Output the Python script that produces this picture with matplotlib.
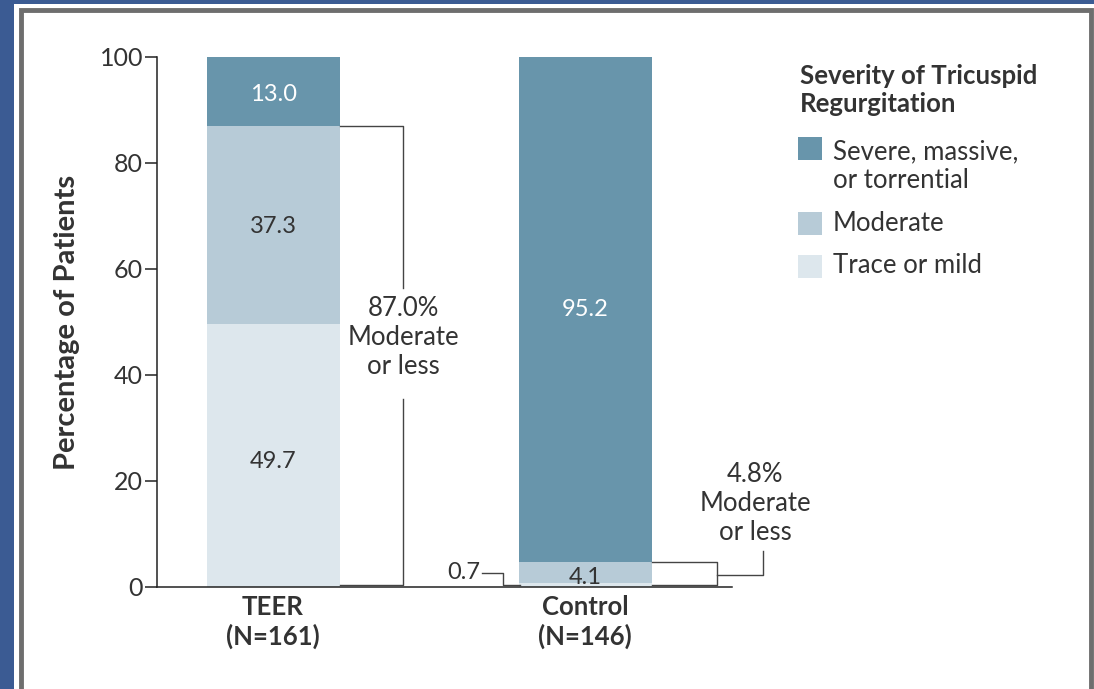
import numpy as np
import matplotlib
matplotlib.use("Agg")
import matplotlib.pyplot as plt
from matplotlib.patches import Rectangle

plt.rcParams['font.family'] = ['Lato', 'DejaVu Sans']

# Data
groups = ['TEER\n(N=161)', 'Control\n(N=146)']
categories = ['Trace or mild', 'Moderate', 'Severe, massive,\nor torrential']
trace = [49.7, 0.7]
moderate = [37.3, 4.1]
severe = [13.0, 95.2]
summary = ['87.0%\nModerate\nor less', '4.8%\nModerate\nor less']

colors = ['#dde7ed', '#b7cbd7', '#6895ab']
txt = '#333333'

W, H = 1094, 689
fig = plt.figure(figsize=(W / 100, H / 100), dpi=100)
fig.patch.set_facecolor('#3b5b93')

# frame: blue border, thin white gap, grey rule, white panel
fig.patches.append(Rectangle((14 / W, 0), 1, 1 - 4 / H, transform=fig.transFigure,
                             facecolor='white', edgecolor='none', zorder=-3))
fig.patches.append(Rectangle((21 / W, -0.01), (1091 - 21) / W, 1 - 10 / H + 0.01,
                             transform=fig.transFigure, facecolor='white',
                             edgecolor='#6e6e6e', linewidth=3.5, zorder=-2))

ax = fig.add_axes([157 / W, 102 / H, (732 - 157) / W, 530 / H])
ax.set_facecolor('none')

x = np.arange(len(groups))
bw = 0.426
bottoms = np.zeros(len(groups))
for vals, c in zip([trace, moderate, severe], colors):
    ax.bar(x, vals, bw, bottom=bottoms, color=c, edgecolor='none', zorder=2)
    bottoms += np.array(vals)

ax.set_xlim(-0.372, 1.471)
ax.set_ylim(0, 100)
ax.spines[['top', 'right']].set_visible(False)
ax.spines['left'].set_color('#222222')
ax.spines['bottom'].set_color('#222222')
ax.spines['left'].set_linewidth(1.1)
ax.spines['bottom'].set_linewidth(1.1)
ax.set_yticks([0, 20, 40, 60, 80, 100])
ax.tick_params(axis='y', length=9, width=1.1, color='#222222', labelsize=18,
               labelcolor=txt, pad=1)
ax.set_xticks([])
ax.set_ylabel('Percentage of Patients', fontsize=21, fontweight='bold',
              color=txt, labelpad=14)

for xi, g in zip(x, groups):
    ax.text(xi, -1.6, g, ha='center', va='top', fontsize=18.5, fontweight='bold',
            color=txt, linespacing=1.2, clip_on=False)

# segment labels
fs = 17
ax.text(0, trace[0] / 2 - 1.2, f'{trace[0]:.1f}', ha='center', va='center',
        fontsize=fs, color=txt)
ax.text(0, trace[0] + moderate[0] / 2 - 0.4, f'{moderate[0]:.1f}', ha='center',
        va='center', fontsize=fs, color=txt)
ax.text(0, trace[0] + moderate[0] + severe[0] / 2 - 0.6, f'{severe[0]:.1f}',
        ha='center', va='center', fontsize=fs, color='white')
ax.text(1, trace[1] + moderate[1] + severe[1] / 2, f'{severe[1]:.1f}',
        ha='center', va='center', fontsize=fs, color='white')
ax.text(1, trace[1] + moderate[1] / 2 - 0.9, f'{moderate[1]:.1f}', ha='center',
        va='center', fontsize=fs, color=txt)

# 0.7 leader
ax.text(0.665, 2.8, f'{trace[1]:.1f}', ha='right', va='center', fontsize=fs,
        color=txt)
lk = dict(color='#444444', lw=1.0, clip_on=False, zorder=3)
ax.plot([0.67, 0.737, 0.737, 1 - bw / 2 + 0.005], [2.7, 2.7, 0.4, 0.4], **lk)

# TEER bracket
tot0 = trace[0] + moderate[0]
bx = 0.417
ax.plot([bw / 2, bx, bx], [tot0, tot0, 56.5], **lk)
ax.plot([bx, bx, bw / 2], [35.5, 0.3, 0.3], **lk)
ax.text(bx, 47.0, summary[0], ha='center', va='center', fontsize=18.5,
        color=txt, linespacing=1.2)

# Control bracket
tot1 = trace[1] + moderate[1]
cx = 1.423
ax.plot([1 + bw / 2, cx, cx, 1 + bw / 2], [tot1, tot1, 0.3, 0.3], **lk)
ax.plot([cx, 1.571, 1.571], [2.3, 2.3, 6.7], **lk)
ax.text(1.545, 15.8, summary[1], ha='center', va='center', fontsize=18.5,
        color=txt, linespacing=1.2, clip_on=False)

# legend
fig.text(800 / W, 1 - 90 / H, 'Severity of Tricuspid\nRegurgitation',
         ha='left', va='center', fontsize=18.5, fontweight='bold', color=txt,
         linespacing=1.2)
patch_top = [137, 212, 255]
text_mid = [166, 223, 266]
for pt, tm, lab, c in zip(patch_top, text_mid, categories[::-1], colors[::-1]):
    fig.patches.append(Rectangle((798 / W, 1 - (pt + 23) / H), 24 / W, 23 / H,
                                 transform=fig.transFigure, facecolor=c,
                                 edgecolor='none'))
    fig.text(833 / W, 1 - tm / H, lab, ha='left', va='center', fontsize=18.5,
             color=txt, linespacing=1.2)

fig.savefig('out.png', dpi=100, facecolor=fig.get_facecolor())
